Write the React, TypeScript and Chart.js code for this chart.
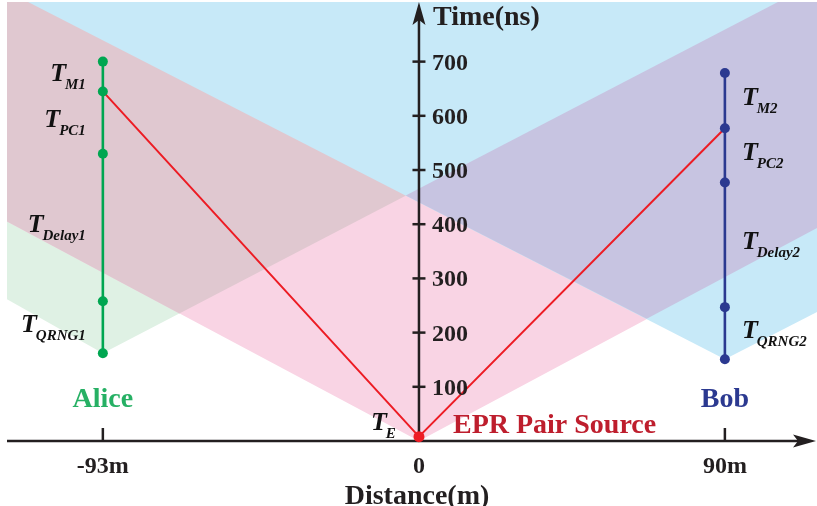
import React, { useEffect, useRef } from 'react';
import { Chart, registerables } from 'chart.js';

Chart.register(...registerables);

// ---- data (distance in m, time in ns) ----
const alicePosition = -93;
const bobPosition = 90;
const sourcePosition = 0;
const sourceTime = 8;
const aliceTimes = [700, 645, 530, 258, 162];
const bobTimes = [679, 577, 477, 247, 151];
const aliceIntervals = ['M1', 'PC1', 'Delay1', 'QRNG1'];
const bobIntervals = ['M2', 'PC2', 'Delay2', 'QRNG2'];
const aliceSignalTime = 645;
const bobSignalTime = 577;
const yTickValues = [100, 200, 300, 400, 500, 600, 700];
const xTickValues = [-93, 0, 90];
const xTickLabels = ['-93m', '0', '90m'];
const xRange = [-121.2, 117.1];
const yRange = [0, 810];

// light-cone regions
const greenRegionX = [-93, -121.2, -121.2, 105.6];
const greenRegionY = [162, 261.6, 810, 810];
const pinkRegionX = [0, 117.1, 117.1, -121.2, -121.2];
const pinkRegionY = [0, 393.2, 810, 810, 404.8];
const mauveRegionX = [-70.5, 105.6, -121.2, -121.2];
const mauveRegionY = [235.2, 810, 810, 404.8];
const blueRegionX = [90, 117.1, 117.1, -115];
const blueRegionY = [151, 238, 810, 810];
const purpleRegionX = [-3.9, 67.0, 117.1, 117.1, 105.6];
const purpleRegionY = [453.2, 225.4, 393.2, 810, 810];

const SERIF = "'Liberation Serif', 'Times New Roman', serif";
const INK = '#231f20';
const GREEN_LINE = 'rgb(0,166,81)';
const NAVY = 'rgb(43,57,144)';
const RED = 'rgb(237,28,36)';

const toPoints = (xs: number[], ys: number[]) => xs.map((x, i) => ({ x, y: ys[i] }));

const region = (xs: number[], ys: number[], color: string, order: number) => ({
  data: toPoints(xs, ys),
  fill: 'shape',
  backgroundColor: color,
  borderColor: 'rgba(0,0,0,0)',
  borderWidth: 0,
  pointRadius: 0,
  tension: 0,
  order,
});

const LAST_REGION_INDEX = 4;

const drawPlugin = {
  id: 'diagram',
  afterDatasetDraw(chart: any, args: any) {
    if (args.index !== LAST_REGION_INDEX) return;
    const { ctx } = chart;
    const xs = chart.scales.x;
    const ys = chart.scales.y;
    const x0 = xs.getPixelForValue(0);
    const y0 = ys.getPixelForValue(0);
    const left = chart.chartArea.left;
    ctx.save();
    ctx.strokeStyle = INK;
    ctx.fillStyle = INK;
    ctx.lineWidth = 2.5;
    // x axis
    ctx.beginPath();
    ctx.moveTo(left, y0);
    ctx.lineTo(800, y0);
    ctx.stroke();
    ctx.beginPath();
    ctx.moveTo(816, y0);
    ctx.lineTo(793, y0 - 6.5);
    ctx.lineTo(798, y0);
    ctx.lineTo(793, y0 + 6.5);
    ctx.closePath();
    ctx.fill();
    // y axis
    ctx.beginPath();
    ctx.moveTo(x0, y0);
    ctx.lineTo(x0, 18);
    ctx.stroke();
    ctx.beginPath();
    ctx.moveTo(x0, 2);
    ctx.lineTo(x0 - 6.5, 25);
    ctx.lineTo(x0, 20);
    ctx.lineTo(x0 + 6.5, 25);
    ctx.closePath();
    ctx.fill();
    // y ticks
    for (const v of yTickValues) {
      const py = ys.getPixelForValue(v);
      ctx.beginPath();
      ctx.moveTo(x0 - 6.5, py);
      ctx.lineTo(x0 + 6.5, py);
      ctx.stroke();
    }
    // x ticks
    for (const v of xTickValues) {
      if (v === 0) continue;
      const px = xs.getPixelForValue(v);
      ctx.beginPath();
      ctx.moveTo(px, y0 - 13);
      ctx.lineTo(px, y0);
      ctx.stroke();
    }
    ctx.restore();
  },
  afterDatasetsDraw(chart: any) {
    const { ctx } = chart;
    const xs = chart.scales.x;
    const ys = chart.scales.y;
    const x0 = xs.getPixelForValue(0);
    const y0 = ys.getPixelForValue(0);
    ctx.save();
    ctx.fillStyle = INK;
    ctx.textBaseline = 'alphabetic';
    // y tick labels
    ctx.font = `bold 24px ${SERIF}`;
    ctx.textAlign = 'left';
    for (const v of yTickValues) {
      ctx.fillText(String(v), x0 + 13, ys.getPixelForValue(v) + 8);
    }
    // x tick labels
    ctx.textAlign = 'center';
    xTickValues.forEach((v, i) => {
      ctx.fillText(xTickLabels[i], xs.getPixelForValue(v), y0 + 32);
    });
    // axis titles
    ctx.font = `bold 28px ${SERIF}`;
    ctx.fillText('Distance(m)', x0 - 2, 504);
    ctx.textAlign = 'left';
    ctx.fillText('Time(ns)', x0 + 14, 25);

    // party labels
    ctx.textAlign = 'center';
    ctx.fillStyle = 'rgb(38,176,100)';
    ctx.fillText('Alice', xs.getPixelForValue(alicePosition), 407);
    ctx.fillStyle = NAVY;
    ctx.fillText('Bob', xs.getPixelForValue(bobPosition), 407);
    ctx.textAlign = 'left';
    ctx.fillStyle = 'rgb(190,30,45)';
    ctx.fillText('EPR Pair Source', x0 + 34, 433);

    // T labels
    ctx.fillStyle = '#111';
    const tFont = `italic bold 26px ${SERIF}`;
    const sFont = `italic bold 15px ${SERIF}`;
    const drawT = (sub: string, xLeft: number, base: number) => {
      ctx.textAlign = 'left';
      ctx.font = tFont;
      ctx.fillText('T', xLeft, base);
      const tw = ctx.measureText('T').width;
      ctx.font = sFont;
      ctx.fillText(sub, xLeft + tw - 1, base + 8);
    };
    const widthT = (sub: string) => {
      ctx.font = tFont;
      const tw = ctx.measureText('T').width;
      ctx.font = sFont;
      return tw - 1 + ctx.measureText(sub).width;
    };
    const ax = xs.getPixelForValue(alicePosition);
    aliceIntervals.forEach((sub, i) => {
      const mid = ys.getPixelForValue((aliceTimes[i] + aliceTimes[i + 1]) / 2);
      drawT(sub, ax - 17 - widthT(sub), mid + 4.5);
    });
    const bx = xs.getPixelForValue(bobPosition);
    bobIntervals.forEach((sub, i) => {
      const mid = ys.getPixelForValue((bobTimes[i] + bobTimes[i + 1]) / 2);
      drawT(sub, bx + 17, mid + 4.5);
    });
    drawT('E', x0 - 48, y0 - 11);
    ctx.restore();
  },
};

export default function App() {
  const canvasRef = useRef<HTMLCanvasElement | null>(null);

  useEffect(() => {
    const canvas = canvasRef.current;
    if (!canvas) return;
    const chart = new Chart(canvas, {
      type: 'line',
      data: {
        datasets: [
          region(greenRegionX, greenRegionY, 'rgb(223,241,228)', 0),
          region(pinkRegionX, pinkRegionY, 'rgb(249,212,228)', -1),
          region(mauveRegionX, mauveRegionY, 'rgb(224,200,208)', -2),
          region(blueRegionX, blueRegionY, 'rgb(199,233,248)', -3),
          region(purpleRegionX, purpleRegionY, 'rgb(199,196,225)', -4),
          {
            data: [
              { x: alicePosition, y: aliceSignalTime },
              { x: sourcePosition, y: sourceTime },
              { x: bobPosition, y: bobSignalTime },
            ],
            borderColor: RED,
            borderWidth: 2,
            pointRadius: 0,
            fill: false,
            order: -5,
          },
          {
            data: aliceTimes.map((t) => ({ x: alicePosition, y: t })),
            borderColor: GREEN_LINE,
            backgroundColor: GREEN_LINE,
            borderWidth: 2.6,
            pointRadius: 5,
            pointBorderWidth: 0,
            pointBackgroundColor: GREEN_LINE,
            fill: false,
            order: -6,
          },
          {
            data: bobTimes.map((t) => ({ x: bobPosition, y: t })),
            borderColor: NAVY,
            backgroundColor: NAVY,
            borderWidth: 2.6,
            pointRadius: 5,
            pointBorderWidth: 0,
            pointBackgroundColor: NAVY,
            fill: false,
            order: -7,
          },
          {
            data: [{ x: sourcePosition, y: sourceTime }],
            borderColor: RED,
            backgroundColor: RED,
            pointRadius: 5.5,
            pointBorderWidth: 0,
            pointBackgroundColor: RED,
            showLine: false,
            fill: false,
            clip: false,
            order: -8,
          },
        ] as any,
      },
      options: {
        animation: false,
        responsive: true,
        maintainAspectRatio: false,
        devicePixelRatio: 1,
        events: [],
        layout: { autoPadding: false, padding: { left: 7, right: 0, top: 2, bottom: 65 } },
        plugins: { legend: { display: false }, tooltip: { enabled: false } },
        elements: { line: { tension: 0 } },
        scales: {
          x: { type: 'linear', min: xRange[0], max: xRange[1], display: false },
          y: { type: 'linear', min: yRange[0], max: yRange[1], display: false },
        },
      } as any,
      plugins: [drawPlugin],
    });
    return () => chart.destroy();
  }, []);

  return (
    <div style={{ position: 'fixed', left: 0, top: 0, width: 817, height: 506, background: '#fff' }}>
      <canvas ref={canvasRef} />
    </div>
  );
}
